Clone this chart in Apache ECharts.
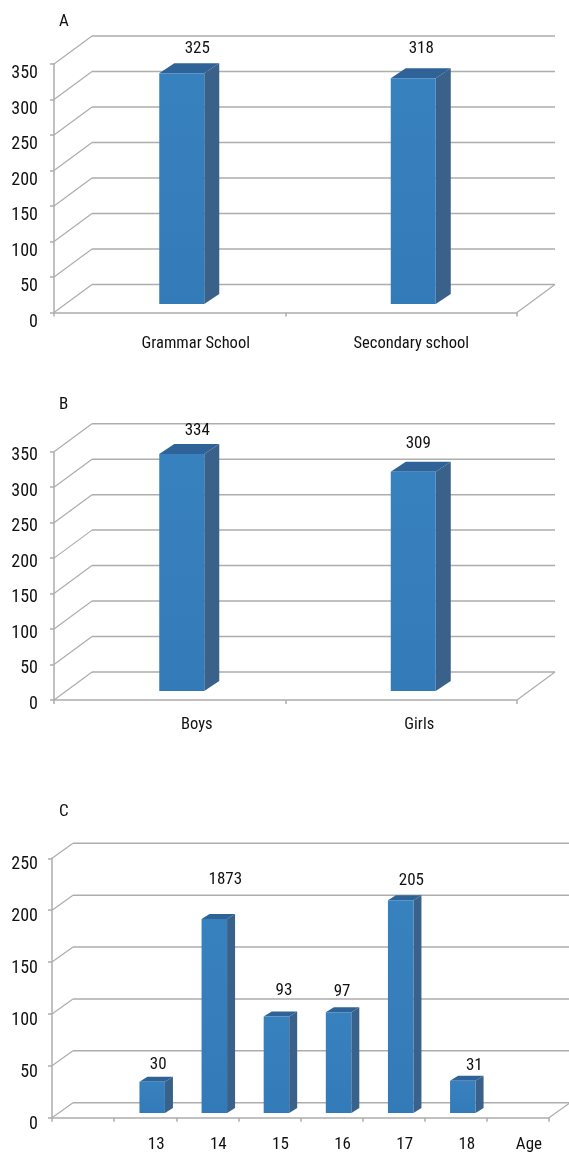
<!DOCTYPE html>
<html>
<head>
<meta charset="utf-8">
<style>html,body{margin:0;padding:0;background:#fff}#c{width:569px;height:1152px}</style>
<script src="https://cdn.jsdelivr.net/npm/echarts@6/dist/echarts.min.js"></script>
</head>
<body>
<div id="c"></div>
<script>
// ---- data ----
const schoolCategories = ['Grammar School', 'Secondary school'];
const schoolValues = [325, 318];
const schoolLabels = ['325', '318'];

const genderCategories = ['Boys', 'Girls'];
const genderValues = [334, 309];
const genderLabels = ['334', '309'];

const ageCategories = ['', '13', '14', '15', '16', '17', '18', 'Age'];
const ageValues = [null, 30, 187, 93, 97, 205, 31, null];
const ageLabels = ['', '30', '1873', '93', '97', '205', '31', ''];

const ticks350 = [0, 50, 100, 150, 200, 250, 300, 350];
const ticks250 = [0, 50, 100, 150, 200, 250];

// ---- layout ----
const FONT = '"Roboto Condensed","Liberation Sans",sans-serif';
const W = 569, H = 1152;
const panels = [
  { name: 'A', titleTop: 13, cats: schoolCategories, vals: schoolValues, labs: schoolLabels, ticks: ticks350, max: 350,
    left: 54, right: 517, top: 64, bottom: 312.5, wall: [38, 28], shift: [12, 8.5], barW: 45, depth: [15, 10],
    nudge: [[15.5, 25], [8, 29.5]], catPad: [52, 20], catMargin: 23, yMargin: 16, yLH: 19 },
  { name: 'B', titleTop: 396, cats: genderCategories, vals: genderValues, labs: genderLabels, ticks: ticks350, max: 350,
    left: 54, right: 517, top: 451.7, bottom: 700, wall: [38, 28], shift: [12, 9], barW: 45, depth: [15, 10],
    nudge: [[15.5, 23.5], [5, 28.5]], catPad: [54, 36], catMargin: 16, yMargin: 16, yLH: 8 },
  { name: 'C', titleTop: 803, cats: ageCategories, vals: ageValues, labs: ageLabels, ticks: ticks250, max: 250,
    left: 52, right: 549, top: 858.3, bottom: 1117.7, wall: [21, 15], shift: [7, 4.7], barW: 25.5, depth: [8, 5],
    nudge: [[0,0],[6,16.7],[11,39.3],[7.5,26],[3.5,21],[10.7,20],[11.5,15],[0,0]], catPad: null, catMargin: 19, yMargin: 14, yLH: 13 }
];

const GREY = '#adadad';
const option = { animation: false, backgroundColor: '#fff', title: [], grid: [], xAxis: [], yAxis: [], series: [] };

panels.forEach((p, i) => {
  option.title.push({ text: p.name, left: 59, top: p.titleTop, padding: 0,
    textStyle: { fontFamily: FONT, fontSize: 17, fontWeight: 'normal', color: '#111' } });
  option.grid.push({ left: p.left, width: p.right - p.left, top: p.top, height: p.bottom - p.top, containLabel: false, outerBoundsMode: 'none' });

  const rich = {};
  if (p.catPad) p.catPad.forEach((pad, k) => { rich['c' + k] = { padding: [0, 0, 0, pad], fontFamily: FONT, fontSize: 16.5, color: '#111' }; });
  option.xAxis.push({
    type: 'category', gridIndex: i, data: p.cats,
    axisLine: { lineStyle: { color: GREY, width: 1.5 } },
    axisTick: { show: true, length: 4, alignWithLabel: false, lineStyle: { color: GREY, width: 1.5 } },
    splitLine: { show: false },
    axisLabel: {
      interval: 0, margin: p.catMargin, fontFamily: FONT, fontSize: 17, color: '#111', hideOverlap: false,
      padding: p.catPad ? 0 : [0, 0, 0, 22],
      formatter: p.catPad ? ((v, k) => '{c' + k + '|' + v + '}') : (v => v),
      rich: rich
    }
  });
  option.yAxis.push({
    type: 'value', gridIndex: i, min: 0, max: p.max, interval: 50,
    axisLine: { show: true, lineStyle: { color: GREY, width: 1.5 } },
    axisTick: { show: true, length: 4, lineStyle: { color: GREY, width: 1.5 } },
    splitLine: { show: false },
    axisLabel: { margin: p.yMargin, fontFamily: FONT, fontSize: 18, color: '#111', verticalAlign: 'top', lineHeight: p.yLH }
  });

  // back wall and side wall rules
  option.series.push({
    type: 'custom', xAxisIndex: i, yAxisIndex: i, z: 1, clip: false, silent: true,
    data: p.ticks.map(t => [t]),
    encode: { y: 0 },
    renderItem(params, api) {
      const v = api.value(0);
      const y = api.coord([0, v])[1];
      const [dx, dy] = p.wall;
      const style = { stroke: GREY, lineWidth: 1.5, fill: null };
      const kids = [
        { type: 'line', shape: { x1: p.left, y1: y, x2: p.left + dx, y2: y - dy }, style: { stroke: GREY, lineWidth: 1.2 } },
        { type: 'line', shape: { x1: p.left + dx, y1: y - dy, x2: p.right + dx, y2: y - dy }, style }
      ];
      if (v === 0) kids.push({ type: 'line', shape: { x1: p.right, y1: y, x2: p.right + dx, y2: y - dy }, style: { stroke: GREY, lineWidth: 1.2 } });
      return { type: 'group', children: kids };
    }
  });

  // bars
  const barData = [];
  p.vals.forEach((v, k) => { if (v !== null) barData.push([k, v, p.labs[k]]); });
  option.series.push({
    type: 'custom', xAxisIndex: i, yAxisIndex: i, z: 3, clip: false, silent: true,
    data: barData,
    encode: { x: 0, y: 1 },
    renderItem(params, api) {
      const k = api.value(0), v = api.value(1);
      const b = api.coord([k, 0]), t = api.coord([k, v]);
      const cx = b[0] + p.shift[0];
      const x0 = cx - p.barW / 2, x1 = cx + p.barW / 2;
      const yb = b[1] - p.shift[1], yt = t[1] - p.shift[1];
      const [ddx, ddy] = p.depth;
      const n = p.nudge[k];
      return { type: 'group', children: [
        { type: 'polygon', shape: { points: [[x1, yb], [x1, yt], [x1 + ddx, yt - ddy], [x1 + ddx, yb - ddy]] }, style: { fill: '#3a6189' } },
        { type: 'polygon', shape: { points: [[x0, yt], [x1, yt], [x1 + ddx, yt - ddy], [x0 + ddx, yt - ddy]] }, style: { fill: '#2f6398' } },
        { type: 'rect', shape: { x: x0, y: yt, width: x1 - x0, height: yb - yt },
          style: { fill: { type: 'linear', x: 0, y: 0, x2: 0, y2: 1, colorStops: [{ offset: 0, color: '#3881bf' }, { offset: 1, color: '#337bb8' }] } } },
        { type: 'text', style: { x: cx + n[0], y: yt - n[1], text: api.value(2), align: 'center', verticalAlign: 'middle',
          font: '17px ' + FONT, fill: '#111' } }
      ] };
    }
  });
});

echarts.init(document.getElementById('c'), null, { renderer: 'canvas', width: W, height: H }).setOption(option);
</script>
</body>
</html>
